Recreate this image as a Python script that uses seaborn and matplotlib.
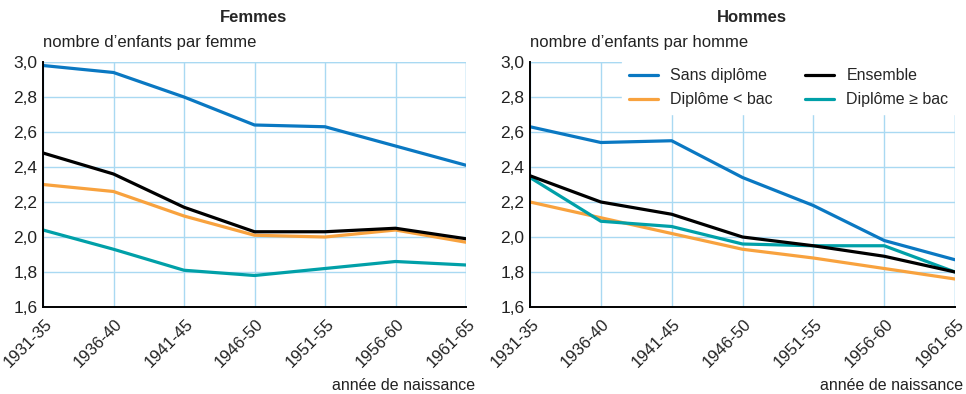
import matplotlib
matplotlib.use("Agg")
import matplotlib.pyplot as plt
from matplotlib.ticker import FuncFormatter, MultipleLocator
from matplotlib.transforms import ScaledTranslation
import seaborn as sns
import pandas as pd

# Birth cohorts
cohorts = ["1931-35", "1936-40", "1941-45", "1946-50", "1951-55", "1956-60", "1961-65"]

# Completed fertility, women
femmes_sans = [2.98, 2.94, 2.80, 2.64, 2.63, 2.52, 2.41]
femmes_inf_bac = [2.30, 2.26, 2.12, 2.01, 2.00, 2.04, 1.97]
femmes_sup_bac = [2.04, 1.93, 1.81, 1.78, 1.82, 1.86, 1.84]
femmes_ensemble = [2.48, 2.36, 2.17, 2.03, 2.03, 2.05, 1.99]

# Completed fertility, men
hommes_sans = [2.63, 2.54, 2.55, 2.34, 2.18, 1.98, 1.87]
hommes_inf_bac = [2.20, 2.11, 2.02, 1.93, 1.88, 1.82, 1.76]
hommes_sup_bac = [2.34, 2.09, 2.06, 1.96, 1.95, 1.95, 1.80]
hommes_ensemble = [2.35, 2.20, 2.13, 2.00, 1.95, 1.89, 1.80]

series_names = ["Sans diplôme", "Diplôme < bac", "Diplôme ≥ bac", "Ensemble"]
legend_order = ["Sans diplôme", "Diplôme < bac", "Ensemble", "Diplôme ≥ bac"]
palette = {
    "Sans diplôme": "#0a78c2",
    "Diplôme < bac": "#f8a23e",
    "Diplôme ≥ bac": "#00a0a8",
    "Ensemble": "#000000",
}

FONT = ["Liberation Sans Narrow", "Liberation Sans", "DejaVu Sans"]


def long_table(values):
    rows = []
    for name, vals in zip(series_names, values):
        for c, v in zip(cohorts, vals):
            rows.append({"cohorte": c, "valeur": v, "serie": name})
    return pd.DataFrame(rows)


sns.set_style("white")
plt.rcParams["font.family"] = FONT

fig = plt.figure(figsize=(9.66, 3.94), dpi=100)
W, H = 966, 394


def px_axes(x0, x1, y0, y1):
    return fig.add_axes([x0 / W, 1 - y1 / H, (x1 - x0) / W, (y1 - y0) / H])


ax_f = px_axes(43, 466, 62, 307)
ax_h = px_axes(530, 955, 62, 307)

grid_col = "#a9d9f2"
shift = ScaledTranslation(1 / 100, -4 / 100, fig.dpi_scale_trans)

for ax, vals in [
    (ax_f, [femmes_sans, femmes_inf_bac, femmes_sup_bac, femmes_ensemble]),
    (ax_h, [hommes_sans, hommes_inf_bac, hommes_sup_bac, hommes_ensemble]),
]:
    df = long_table(vals)
    sns.lineplot(data=df, x="cohorte", y="valeur", hue="serie",
                 hue_order=series_names, palette=palette, sort=False,
                 linewidth=2.3, ax=ax, legend=False)
    ax.set_xlim(0, len(cohorts) - 1)
    ax.set_ylim(1.6, 3.0)
    ax.yaxis.set_major_locator(MultipleLocator(0.2))
    ax.yaxis.set_major_formatter(FuncFormatter(lambda v, p: f"{v:.1f}".replace(".", ",")))
    ax.grid(True, color=grid_col, linewidth=1.0)
    ax.set_axisbelow(True)
    for s in ["top", "right"]:
        ax.spines[s].set_visible(False)
    for s in ["left", "bottom"]:
        ax.spines[s].set_color("black")
        ax.spines[s].set_linewidth(1.4)
    ax.tick_params(axis="y", length=0, pad=4, labelsize=12.5, colors="#222222")
    ax.tick_params(axis="x", length=0, pad=4, labelsize=12, colors="#222222")
    ax.set_xticks(range(len(cohorts)))
    ax.set_xticklabels(cohorts, rotation=45, ha="right", rotation_mode="anchor")
    ax.set_xlabel("")
    ax.set_ylabel("")
    for lab in ax.get_xticklabels():
        lab.set_family(FONT)
        lab.set_transform(lab.get_transform() + shift)
    for lab in ax.get_yticklabels():
        lab.set_family(FONT)
    # top grid line at 3,0 and right vertical line
    ax.axhline(3.0, color=grid_col, linewidth=1.0, zorder=0.5)
    ax.axvline(len(cohorts) - 1, color=grid_col, linewidth=1.0, zorder=0.5)

# Legend on the men's panel
handles = [plt.Line2D([], [], color=palette[n], linewidth=2.3) for n in legend_order]
leg = ax_h.legend(handles, legend_order, loc="upper right", ncol=2,
                  frameon=True, fancybox=False, framealpha=1.0,
                  edgecolor="white", facecolor="white",
                  borderaxespad=0.0, handlelength=1.8,
                  columnspacing=2.0, labelspacing=0.55,
                  prop={"family": FONT, "size": 11.5})

# Titles and axis captions
fig.text(254 / W, 1 - 18 / H, "Femmes", ha="center", va="center",
         fontsize=12, fontweight="bold", family=FONT)
fig.text(752 / W, 1 - 18 / H, "Hommes", ha="center", va="center",
         fontsize=12, fontweight="bold", family=FONT)
fig.text(43 / W, 1 - 43 / H, "nombre d’enfants par femme", ha="left", va="center",
         fontsize=12, family=FONT, color="#222222")
fig.text(530 / W, 1 - 43 / H, "nombre d’enfants par homme", ha="left", va="center",
         fontsize=12, family=FONT, color="#222222")
fig.text(475 / W, 1 - 385 / H, "année de naissance", ha="right", va="center",
         fontsize=11.5, family=FONT, color="#222222")
fig.text(963 / W, 1 - 385 / H, "année de naissance", ha="right", va="center",
         fontsize=11.5, family=FONT, color="#222222")

fig.savefig("out.png", dpi=100, facecolor="white")
